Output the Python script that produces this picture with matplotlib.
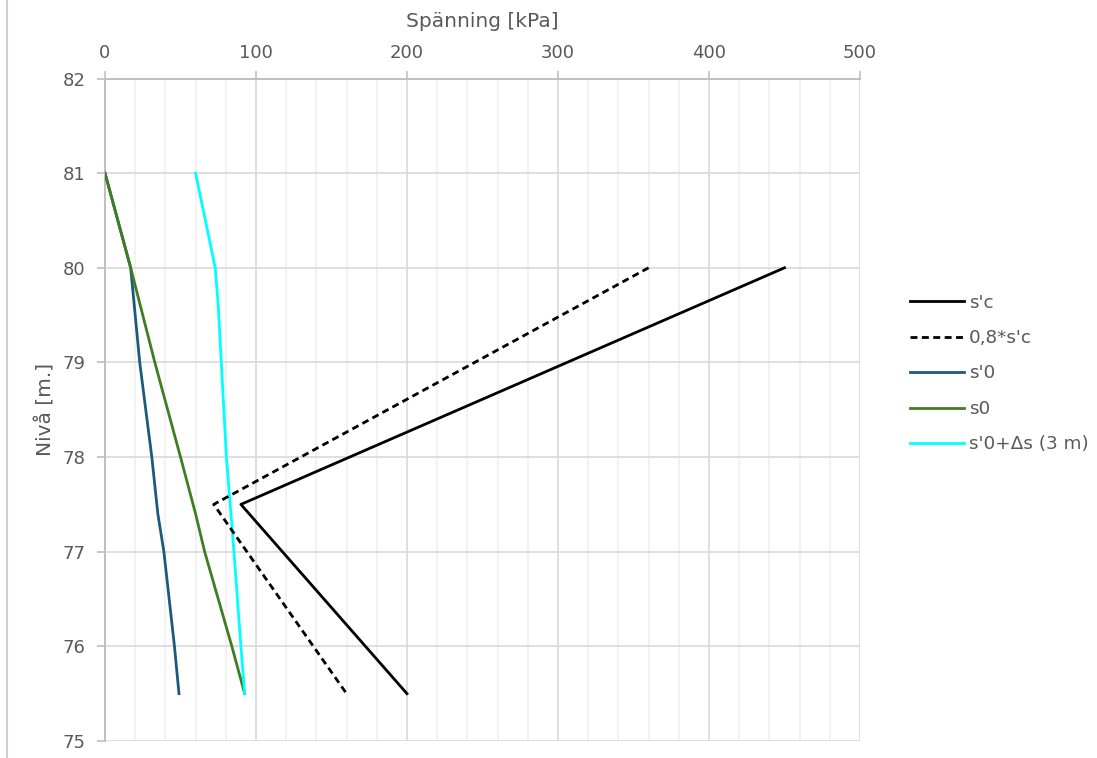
import matplotlib
matplotlib.use("Agg")
import matplotlib.pyplot as plt
from matplotlib.lines import Line2D
from matplotlib.ticker import MultipleLocator

# Data: (stress kPa, level m)
sc_x = [450, 90, 200]
sc_y = [80, 77.5, 75.5]

sc08_x = [360, 72, 160]
sc08_y = [80, 77.5, 75.5]

s0eff_x = [0, 17, 23, 31, 35, 39, 46, 49]
s0eff_y = [81, 80, 79, 78, 77.4, 77, 76, 75.5]

s0_x = [0, 17, 33, 50, 60, 66, 84, 92.5]
s0_y = [81, 80, 79, 78, 77.4, 77, 76, 75.5]

s0ds_x = [60, 73, 75, 77, 80.4, 85.4, 90, 92.5]
s0ds_y = [81, 80, 79.6, 79, 78, 77, 76, 75.5]

labels = ["s'c", "0,8*s'c", "s'0", "s0", "s'0+\u0394s (3 m)"]
colors = ["#000000", "#000000", "#1b5a7e", "#3f7d22", "#00ffff"]

TXT = "#595959"
plt.rcParams['font.family'] = ['DejaVu Sans']

fig = plt.figure(figsize=(10.97, 7.58), dpi=100)
ax = fig.add_axes([105/1097, 1-741/758, (860-105)/1097, (741-78.5)/758])

lw = 2.0
ax.plot(sc_x, sc_y, color=colors[0], lw=lw, label=labels[0], zorder=5)
ax.plot(sc08_x, sc08_y, color=colors[1], lw=lw, ls=(0, (2.5, 1.6)), label=labels[1], zorder=5)
ax.plot(s0eff_x, s0eff_y, color=colors[2], lw=lw, label=labels[2], zorder=4)
ax.plot(s0_x, s0_y, color=colors[3], lw=lw, label=labels[3], zorder=4)
ax.plot(s0ds_x, s0ds_y, color=colors[4], lw=lw, label=labels[4], zorder=4)

ax.set_xlim(0, 500)
ax.set_ylim(75, 82)
ax.xaxis.set_major_locator(MultipleLocator(100))
ax.xaxis.set_minor_locator(MultipleLocator(20))
ax.yaxis.set_major_locator(MultipleLocator(1))

ax.xaxis.tick_top()
ax.xaxis.set_label_position('top')
ax.tick_params(axis='x', which='major', direction='out', length=6, width=1.2,
               color='#bfbfbf', labelsize=13, labelcolor=TXT, pad=6)
ax.tick_params(axis='x', which='minor', length=0)
ax.tick_params(axis='y', which='major', direction='out', length=6, width=1.2,
               color='#bfbfbf', labelsize=13, labelcolor=TXT, pad=8)

ax.grid(True, which='major', color='#d9d9d9', lw=1.2, zorder=0)
ax.grid(True, which='minor', axis='x', color='#f0f0f0', lw=1.2, zorder=0)
ax.set_axisbelow(True)

for s in ['right', 'bottom']:
    ax.spines[s].set_visible(False)
for s in ['top', 'left']:
    ax.spines[s].set_color('#bfbfbf')
    ax.spines[s].set_linewidth(1.4)

ax.set_xlabel("Sp\u00e4nning [kPa]", fontsize=14.5, color=TXT, labelpad=12)
ax.set_ylabel("Niv\u00e5 [m.]", fontsize=14.5, color=TXT, labelpad=5)

leg = fig.legend(loc='center left', bbox_to_anchor=(893/1097, 1-373.5/758),
                 frameon=False, fontsize=13.2, handlelength=2.95, handletextpad=0.3,
                 labelspacing=0.95)
for t in leg.get_texts():
    t.set_color(TXT)

fig.add_artist(Line2D([7/1097, 7/1097], [0, 1], color='#d0d0d0', lw=1.5,
                      transform=fig.transFigure))

fig.savefig("out.png", dpi=100, facecolor='white')
